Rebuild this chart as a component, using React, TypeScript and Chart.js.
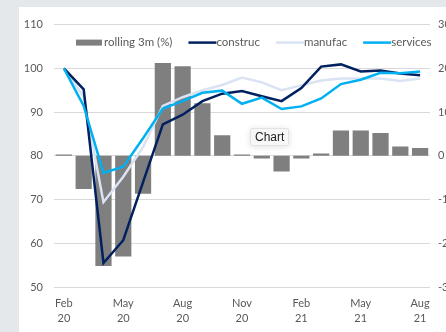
import { useEffect, useRef } from "react";
import { Chart, registerables } from "chart.js";

Chart.register(...registerables);

// Monthly categories, Feb 2020 – Aug 2021
const months = ["Feb", "Mar", "Apr", "May", "Jun", "Jul", "Aug", "Sep", "Oct", "Nov", "Dec", "Jan", "Feb", "Mar", "Apr", "May", "Jun", "Jul", "Aug"];
const years = ["20", "20", "20", "20", "20", "20", "20", "20", "20", "20", "20", "21", "21", "21", "21", "21", "21", "21", "21"];

// Rolling 3-month change (%), right axis
const rolling3m = [0.3, -7.6, -25.2, -23.0, -8.7, 21.2, 20.5, 12.0, 4.7, 0.3, -0.6, -3.6, -0.6, 0.5, 5.8, 5.8, 5.2, 2.1, 1.8];

// Sector indices (Feb 2020 = 100), left axis
const construc = [100, 95.2, 55.5, 60.7, 74.0, 87.2, 89.4, 92.5, 94.2, 94.8, 93.6, 92.5, 95.5, 100.4, 100.9, 99.3, 99.5, 98.8, 98.4];
const manufac = [100, 93.5, 69.4, 75.2, 82.0, 91.4, 93.4, 95.0, 96.2, 97.9, 96.8, 95.0, 96.1, 97.2, 97.7, 97.7, 97.7, 97.1, 97.7];
const services = [100, 91.4, 76.1, 77.5, 84.0, 90.8, 92.5, 94.4, 94.9, 91.9, 93.3, 90.7, 91.3, 93.1, 96.4, 97.4, 99.0, 98.9, 99.3];

const leftTicks = { min: 50, max: 110, step: 10 };
const rightTicks = { min: -30, max: 30, step: 10 };

const FONT = "Lato, 'Liberation Sans', sans-serif";
const TEXT = "#595959";

const COLORS = {
  bar: "#7f7f7f",
  construc: "#002060",
  manufac: "#dae3f3",
  services: "#00b0f0",
};

// Legend drawn inside the plot area, across the top
const insideLegend = {
  id: "insideLegend",
  afterDatasetsDraw(chart: any) {
    const { ctx, chartArea } = chart;
    const y = chartArea.top + 18;
    ctx.save();
    ctx.font = `11.5px ${FONT}`;
    ctx.textBaseline = "middle";
    ctx.fillStyle = TEXT;
    const items = [
      { label: "rolling 3m (%)", kind: "bar", color: COLORS.bar },
      { label: "construc", kind: "line", color: COLORS.construc },
      { label: "manufac", kind: "line", color: COLORS.manufac },
      { label: "services", kind: "line", color: COLORS.services },
    ];
    let x = chartArea.left + 22;
    for (const it of items) {
      if (it.kind === "bar") {
        ctx.fillStyle = it.color;
        ctx.fillRect(x, y - 3, 26, 6);
        x += 28;
      } else {
        ctx.strokeStyle = it.color;
        ctx.lineWidth = 2.5;
        ctx.beginPath();
        ctx.moveTo(x, y);
        ctx.lineTo(x + 28, y);
        ctx.stroke();
        x += 28;
      }
      ctx.fillStyle = TEXT;
      ctx.fillText(it.label, x, y);
      x += ctx.measureText(it.label).width + 16;
    }
    ctx.restore();
  },
};

function ComboChart() {
  const ref = useRef<HTMLCanvasElement | null>(null);

  useEffect(() => {
    if (!ref.current) return;
    const labels = months.map((m, i) => [m, years[i]]);
    const lineStyle = {
      type: "line" as const,
      yAxisID: "y",
      borderWidth: 2.5,
      pointRadius: 0,
      tension: 0,
      fill: false,
    };
    const chart = new Chart(ref.current, {
      type: "bar",
      data: {
        labels,
        datasets: [
          {
            type: "bar",
            label: "rolling 3m (%)",
            data: rolling3m,
            yAxisID: "y1",
            backgroundColor: COLORS.bar,
            barPercentage: 0.82,
            categoryPercentage: 1,
            order: 4,
          },
          { ...lineStyle, label: "manufac", data: manufac, borderColor: COLORS.manufac, order: 3 },
          { ...lineStyle, label: "construc", data: construc, borderColor: COLORS.construc, order: 2 },
          { ...lineStyle, label: "services", data: services, borderColor: COLORS.services, order: 1 },
        ] as any,
      },
      options: {
        animation: false,
        responsive: false,
        maintainAspectRatio: false,
        layout: { padding: { top: 14, left: 0, right: 0, bottom: 0 } },
        plugins: {
          legend: { display: false },
          tooltip: { enabled: false },
          title: { display: false },
        },
        scales: {
          x: {
            type: "category",
            offset: true,
            grid: { display: false, drawTicks: false },
            border: { display: false },
            ticks: {
              autoSkip: false,
              maxRotation: 0,
              padding: 9,
              color: TEXT,
              font: { family: FONT, size: 11, lineHeight: 1.36 },
              callback: (_v: any, i: number) => (i % 3 === 0 ? labels[i] : ""),
            },
            afterFit: (s: any) => {
              s.height = 45;
            },
          },
          y: {
            position: "left",
            min: leftTicks.min,
            max: leftTicks.max,
            grid: { color: "#d9d9d9", lineWidth: 1, drawTicks: false },
            border: { display: false },
            ticks: {
              stepSize: leftTicks.step,
              padding: 11,
              color: TEXT,
              font: { family: FONT, size: 11 },
            },
            afterFit: (s: any) => {
              s.width = 35;
            },
          },
          y1: {
            position: "right",
            min: rightTicks.min,
            max: rightTicks.max,
            grid: { display: false, drawTicks: false },
            border: { display: false },
            ticks: {
              stepSize: rightTicks.step,
              padding: 8,
              color: TEXT,
              font: { family: FONT, size: 11 },
            },
            afterFit: (s: any) => {
              s.width = 16;
            },
          },
        },
      } as any,
      plugins: [insideLegend],
    });
    return () => chart.destroy();
  }, []);

  return <canvas ref={ref} width={427} height={325} style={{ display: "block", width: 427, height: 325 }} />;
}

export default function App() {
  return (
    <div style={{ position: "fixed", left: 0, top: 0, width: 446, height: 332, background: "#e5e8eb", overflow: "hidden" }}>
      <div style={{ position: "absolute", left: 19, top: 7, width: 427, height: 325, background: "#ffffff" }}>
        <ComboChart />
      </div>
      <div
        style={{
          position: "absolute",
          left: 250,
          top: 128,
          padding: "1px 4px",
          background: "#f7f7f7",
          border: "1px solid #e2e2e2",
          borderRadius: 2,
          boxShadow: "0 1px 6px rgba(0,0,0,0.12)",
          fontFamily: "'Liberation Sans', Arial, sans-serif",
          fontSize: 12,
          lineHeight: "14px",
          color: "#222",
        }}
      >
        Chart
      </div>
    </div>
  );
}
